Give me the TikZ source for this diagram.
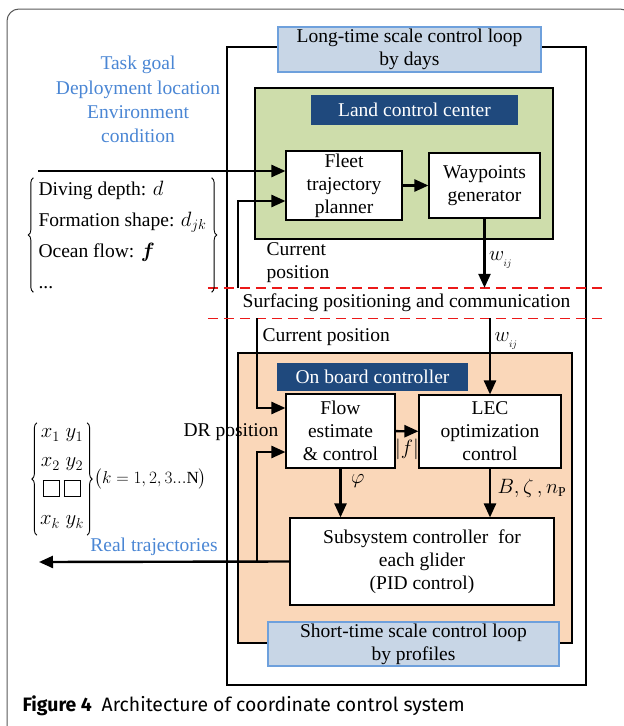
\documentclass[tikz,border=0pt]{standalone}
\usepackage{amsmath,amssymb}
\usepackage{fontspec}
\setmainfont{Liberation Serif}
\newfontfamily\capfont{Fira Sans}
\usetikzlibrary{arrows.meta,decorations.pathreplacing}

\definecolor{landgreen}{RGB}{206,221,171}
\definecolor{boardorange}{RGB}{250,215,185}
\definecolor{loopfill}{RGB}{200,214,230}
\definecolor{loopedge}{RGB}{110,160,220}
\definecolor{labnavy}{RGB}{31,73,125}
\definecolor{textblue}{RGB}{74,134,212}
\definecolor{dashred}{RGB}{235,25,25}

\newcommand{\emptycell}{\mbox{\fboxrule=1.2pt\fboxsep=0pt\fbox{\rule{0pt}{15pt}\rule{15pt}{0pt}}}}

\tikzset{
  blk/.style={draw,line width=1.1pt,fill=white,align=center,inner sep=0pt},
  looplab/.style={draw=loopedge,line width=2.4pt,fill=loopfill,align=center,inner sep=0pt},
  navylab/.style={fill=labnavy,text=white,inner sep=0pt},
  arr/.style={-{Triangle[length=14pt,width=12pt]},line width=2.4pt},
  reddash/.style={dash pattern=on 10pt off 6pt,draw=dashred,line width=1.4pt},
  bluetxt/.style={text=textblue,align=center},
  curly/.style={decorate,decoration={brace,amplitude=5pt},line width=0.9pt}
}

\begin{document}
\begin{tikzpicture}[x=1pt,y=-1pt,font=\fontsize{19.5}{23}\selectfont]
		\useasboundingbox (0,0) rectangle (624,726);
		\clip (0,0) rectangle (624,726);
		\draw[gray!70!black,line width=1pt,rounded corners=12pt] (7,740) -- (7,9) -- (632,9) -- (632,740);

		% long-time scale loop
		\draw[line width=1.2pt] (227,47) rectangle (586,685);
		\node[looplab,minimum width=263pt,minimum height=45pt] (longloop) at (409.5,49.5) {Long-time scale control loop\\by days};

		% land control center
		\draw[fill=landgreen,line width=1.2pt] (255,88) rectangle (553,239);
		\node[navylab,minimum width=207pt,minimum height=30pt] (land) at (414.5,110) {Land control center};
		\node[blk,minimum width=116pt,minimum height=69pt] (fleet) at (344,185.5) {Fleet\\trajectory\\planner};
		\node[blk,minimum width=111pt,minimum height=65pt] (wp) at (484.5,185.5) {Waypoints\\generator};

		% surfacing
		\node[minimum width=397pt,minimum height=30pt,inner sep=0pt] (surf) at (406.5,303) {Surfacing positioning and communication};
		\draw[reddash] (surf.north west) -- (surf.north east);
		\draw[reddash] (surf.south west) -- (surf.south east);

		% on board controller
		\draw[fill=boardorange,line width=1.2pt] (238,353) rectangle (572,643);
		\node[navylab,minimum width=191pt,minimum height=28pt] (board) at (372.5,377) {On board controller};
		\node[blk,minimum width=109pt,minimum height=74pt] (flow) at (340.5,431) {Flow\\estimate\\\& control};
		\node[blk,minimum width=142pt,minimum height=73pt] (lec) at (490,431.5) {LEC\\optimization\\control};
		\node[blk,minimum width=264pt,minimum height=87pt] (sub) at (422,561.5) {Subsystem controller\ \ for\\each glider\\(PID control)};
		\node[looplab,minimum width=291pt,minimum height=44pt] (shortloop) at (413.5,644) {Short-time scale control loop\\by profiles};

		% inputs
		\node[bluetxt,font=\fontsize{19.5}{24.3}\selectfont] (goal) at (138,99.5) {Task goal\\Deployment location\\Environment\\condition};
		\node[align=left,font=\fontsize{19.5}{31}\selectfont,inner xsep=5pt,inner ysep=0pt,minimum height=114pt] (params) at (122.5,235) {Diving depth: $d$\\Formation shape: $d_{jk}$\\Ocean flow: $\boldsymbol{f}$\\...};
		\draw[curly] (params.south west) -- (params.north west);
		\draw[curly] (params.north east) -- (params.south east);

		\node[align=center,font=\fontsize{19.5}{29}\selectfont,inner xsep=3pt,inner ysep=0pt,minimum height=112pt] (traj) at (62,479) {$x_1\;y_1$\\$x_2\;y_2$\\\emptycell\,\emptycell\\$x_k\;y_k$};
		\draw[curly] (traj.south west) -- (traj.north west);
		\draw[curly] (traj.north east) -- (traj.south east);
		\node[anchor=west,inner sep=0pt,font=\fontsize{17}{22}\selectfont] (kidx) at ([xshift=7pt]traj.east) {$\big(k=1,2,3...\mathrm{N}\big)$};
		\node[bluetxt] (real) at (154,547) {Real trajectories};

		\coordinate (in) at (38,171);
		\coordinate (cp1) at (238,288);
		\coordinate (cp2) at (257,318);
		\coordinate (dr) at (257,562);
		\coordinate (out) at (39,562);

		% connectors
		\draw[arr] (in) -- (in -| fleet.west);
		\draw[arr] (cp1) |- ([yshift=-15.5pt]fleet.west);
		\draw[arr] (fleet) -- (wp);
		\draw[arr] (wp.south) -- (wp.south |- surf.north) node[pos=0.6,right] {$w_{_{ij}}$};
		\draw[arr] (lec.north |- surf.south) -- (lec.north) node[pos=0.3,right] {$w_{_{ij}}$};
		\draw[arr] (cp2) |- ([yshift=23pt]flow.west);
		\draw[arr] (dr) |- ([yshift=-21pt]flow.west);
		\draw[arr] (sub.west) -- (out);
		\draw[arr] (flow) -- (lec) node[pos=0.5,below=3pt] {$\lvert f\rvert$};
		\draw[arr] (flow.south) -- (flow.south |- sub.north) node[pos=0.25,right=6pt] {$\varphi$};
		\draw[arr] (lec.south) -- (lec.south |- sub.north) node[pos=0.4,right=3pt] {$B,\zeta\,,n_{\mathrm{P}}$};

		% labels
		\node[align=left,anchor=north west] (curA) at (263,239) {Current\\position};
		\node[anchor=west] (curB) at (259,337) {Current position};
		\node (drpos) at (231,432) {DR position};

		\node[anchor=west,font=\capfont\fontsize{19.4}{23}\selectfont] (cap) at (19,706) {\textbf{Figure 4}\hspace{0.5em}Architecture of coordinate control system};
		\end{tikzpicture}
\end{document}
